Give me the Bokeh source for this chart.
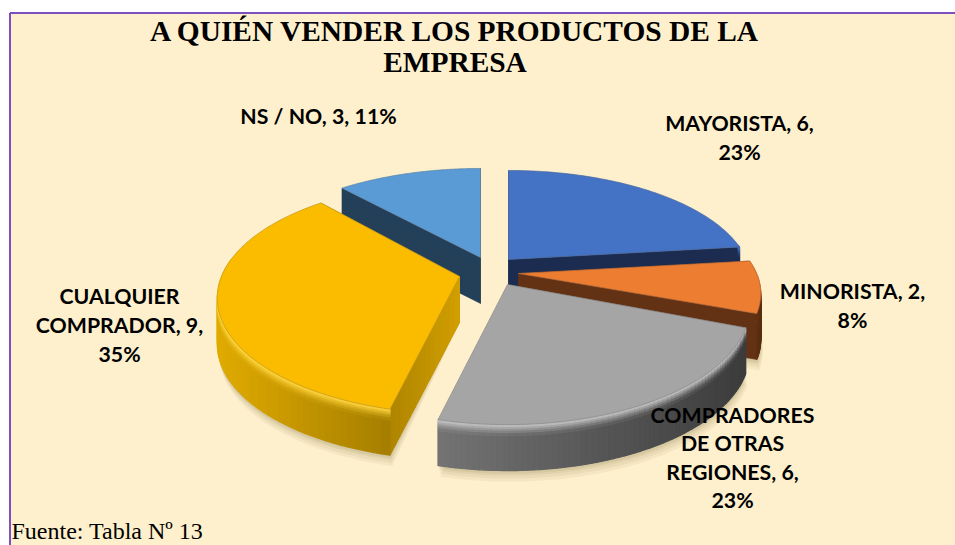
import math
from bokeh.plotting import figure
from bokeh.models import Range1d, ColumnDataSource
from bokeh.core.properties import value
from bokeh.embed import file_html
from bokeh.resources import INLINE

title_lines = ["A QUIÉN VENDER LOS PRODUCTOS DE LA", "EMPRESA"]
categories = ["MAYORISTA", "MINORISTA", "COMPRADORES DE OTRAS REGIONES", "CUALQUIER COMPRADOR", "NS / NO"]
values = [6, 2, 6, 9, 3]
percents = [23, 8, 23, 35, 11]
footer = "Fuente: Tabla Nº 13"

W, H = 955, 545
p = figure(width=W, height=H, output_backend="svg", toolbar_location=None,
           x_range=Range1d(0, W), y_range=Range1d(H, 0),
           min_border=0, outline_line_color=None)
p.axis.visible = False
p.grid.visible = False
p.background_fill_color = "white"
p.border_fill_color = "white"

# page furniture
p.quad(left=[9.5], right=[W], top=[12.5], bottom=[545], fill_color="#FEF0CD", line_color=None)
p.segment(x0=[9.5], y0=[12.5], x1=[W], y1=[12.5], line_color="#7F4FBF", line_width=2)
p.segment(x0=[9.5], y0=[12.5], x1=[9.5], y1=[545], line_color="#7F4FBF", line_width=2)

# projection of the tilted pie
R, RT, K, DEPTH = 238.0, 105.6, 0.186, 46.0
total = sum(values)
apex = [(508, 259), (518, 273), (507, 284), (459, 276), (480, 257)]
stretch_y = [1.0, 1.0, 1.08, 1.06, 1.0]
stretch_x = [1.0, 1.0, 1.0, 1.0, 1.0]
top_col = ["#4472C4", "#ED7D31", "#A5A5A5", "#FBBC00", "#5B9BD5"]
cut_col = ["#1B2C50", "#633214", "#555555", "#C99700", "#243F58"]
face_l = ["#1B2C50", "#6B3716", "#747474", "#E0AB00", "#243F58"]
face_r = ["#1B2C50", "#5A2D12", "#3C3C3C", "#A67E00", "#243F58"]
rim_col = ["#4A7ACF", "#F59A55", "#C4C4C4", "#FFD43C", "#62A3DC"]


def proj(i, th, h=0.0):
    c = apex[i]
    X, Z = math.sin(th), math.cos(th)
    s = 1 / (1 + K * Z)
    return c[0] + R * stretch_x[i] * X * s, c[1] - RT * stretch_y[i] * Z * s + h


def hex2rgb(c):
    return tuple(int(c[i:i + 2], 16) for i in (1, 3, 5))


def mix(a, b, t):
    ra, rb = hex2rgb(a), hex2rgb(b)
    return "#%02x%02x%02x" % tuple(round(x + (y - x) * t) for x, y in zip(ra, rb))


angles = [0.0]
for v in values:
    angles.append(angles[-1] + 2 * math.pi * v / total)

# soft shadows
sx, sy, sc, sa = [], [], [], []
for i in (0, 1, 2, 3):
    a0, a1 = angles[i], angles[i + 1]
    n = 60
    ths = [a0 + (a1 - a0) * j / n for j in range(n + 1)]
    for off, alpha in ((11, 0.07), (8, 0.08), (5, 0.09), (3, 0.1)):
        pts = [proj(i, t, h=DEPTH + off) for t in ths]
        sx.append([q[0] + off * 0.2 for q in pts] + [apex[i][0]])
        sy.append([q[1] for q in pts] + [apex[i][1] + DEPTH])
        sc.append("#7A6A3A")
        sa.append(alpha)
p.patches(xs="x", ys="y", fill_color="c", fill_alpha="a", line_color=None,
          source=ColumnDataSource(dict(x=sx, y=sy, c=sc, a=sa)))

# draw slices back to front
order = [4, 0, 1, 2, 3]
bands = [0.0, 0.04, 0.08, 0.12, 0.17, 0.24, 1.0]
for i in order:
    a0, a1 = angles[i], angles[i + 1]
    c = apex[i]
    xs, ys, cols = [], [], []
    for a in (a0, a1):
        e = proj(i, a)
        xs.append([c[0], e[0], e[0], c[0]])
        ys.append([c[1], e[1], e[1] + DEPTH, c[1] + DEPTH])
        cols.append(cut_col[i])
    if i != 2:
        p.patches(xs=xs, ys=ys, fill_color=cols, line_color=cols, line_width=0.5)
    if i == 3:
        xs, ys, cols = [], [], []
        e = proj(i, a0)
        m = 14
        for j in range(m):
            t0, t1 = j / m, (j + 1) / m
            x0, y0 = c[0] + (e[0] - c[0]) * t0, c[1] + (e[1] - c[1]) * t0
            x1, y1 = c[0] + (e[0] - c[0]) * t1, c[1] + (e[1] - c[1]) * t1
            xs.append([x0, x1, x1, x0])
            ys.append([y0, y1, y1 + DEPTH, y0 + DEPTH])
            cols.append(mix("#D3A000", "#B08600", t1))
        p.patches(xs=xs, ys=ys, fill_color=cols, line_color=cols, line_width=1)
    # curved outer face: colour runs across the slice, with a bevel under the rim
    n = 70
    segs = []
    for j in range(n):
        t0 = a0 + (a1 - a0) * j / n
        t1 = a0 + (a1 - a0) * (j + 1) / n
        if math.cos((t0 + t1) / 2) <= 0.15:
            segs.append((proj(i, t0), proj(i, t1)))
    xs, ys, cols = [], [], []
    if segs:
        xmin = min(min(a[0], b[0]) for a, b in segs)
        xmax = max(max(a[0], b[0]) for a, b in segs)
        for pa, pb in segs:
            u = ((pa[0] + pb[0]) / 2 - xmin) / max(1, xmax - xmin)
            base = mix(face_l[i], face_r[i], u)
            for b in range(len(bands) - 1):
                h0, h1 = bands[b] * DEPTH, bands[b + 1] * DEPTH
                col = base if b == len(bands) - 2 else mix(rim_col[i], base, (b + 0.5) / (len(bands) - 2))
                xs.append([pa[0], pb[0], pb[0], pa[0]])
                ys.append([pa[1] + h0, pb[1] + h0, pb[1] + h1, pa[1] + h1])
                cols.append(col)
        xs, ys, cols = xs[::-1], ys[::-1], cols[::-1]
        p.patches(xs=xs, ys=ys, fill_color=cols, line_color=cols, line_width=1.2)
    m = 90
    pts = [proj(i, a0 + (a1 - a0) * j / m) for j in range(m + 1)]
    p.patch([c[0]] + [q[0] for q in pts], [c[1]] + [q[1] for q in pts],
            fill_color=top_col[i], line_color=mix(top_col[i], "#555555", 0.35), line_width=0.7)

# labels
title_y = [30, 61]
for t, y in zip(title_lines, title_y):
    p.text(x=[454.5], y=[y], text=[t], text_font=value("Liberation Serif"), text_font_style="bold",
           text_font_size="29.4px", text_color="#000000", text_align="center", text_baseline="middle")

lab = [
    ([f"{categories[0]}, {values[0]},", f"{percents[0]}%"], 739, [122, 151]),
    ([f"{categories[1]}, {values[1]},", f"{percents[1]}%"], 852, [290, 319]),
    (["COMPRADORES", "DE OTRAS", f"REGIONES, {values[2]},", f"{percents[2]}%"], 732, [414, 442, 471, 499]),
    (["CUALQUIER", f"COMPRADOR, {values[3]},", f"{percents[3]}%"], 119, [295, 324, 353]),
    ([f"{categories[4]}, {values[4]}, {percents[4]}%"], 318, [115]),
]
for lines, x, ys in lab:
    p.text(x=[x] * len(lines), y=ys, text=lines, text_font=value("Lato"), text_font_style="bold",
           text_font_size="21.3px", text_color="#000000", text_align="center", text_baseline="middle")

p.text(x=[11], y=[543], text=[footer], text_font=value("Liberation Serif"), text_font_size="24px",
       text_color="#000000", text_align="left", text_baseline="bottom")

open("out.html", "w").write(file_html(p, INLINE))
